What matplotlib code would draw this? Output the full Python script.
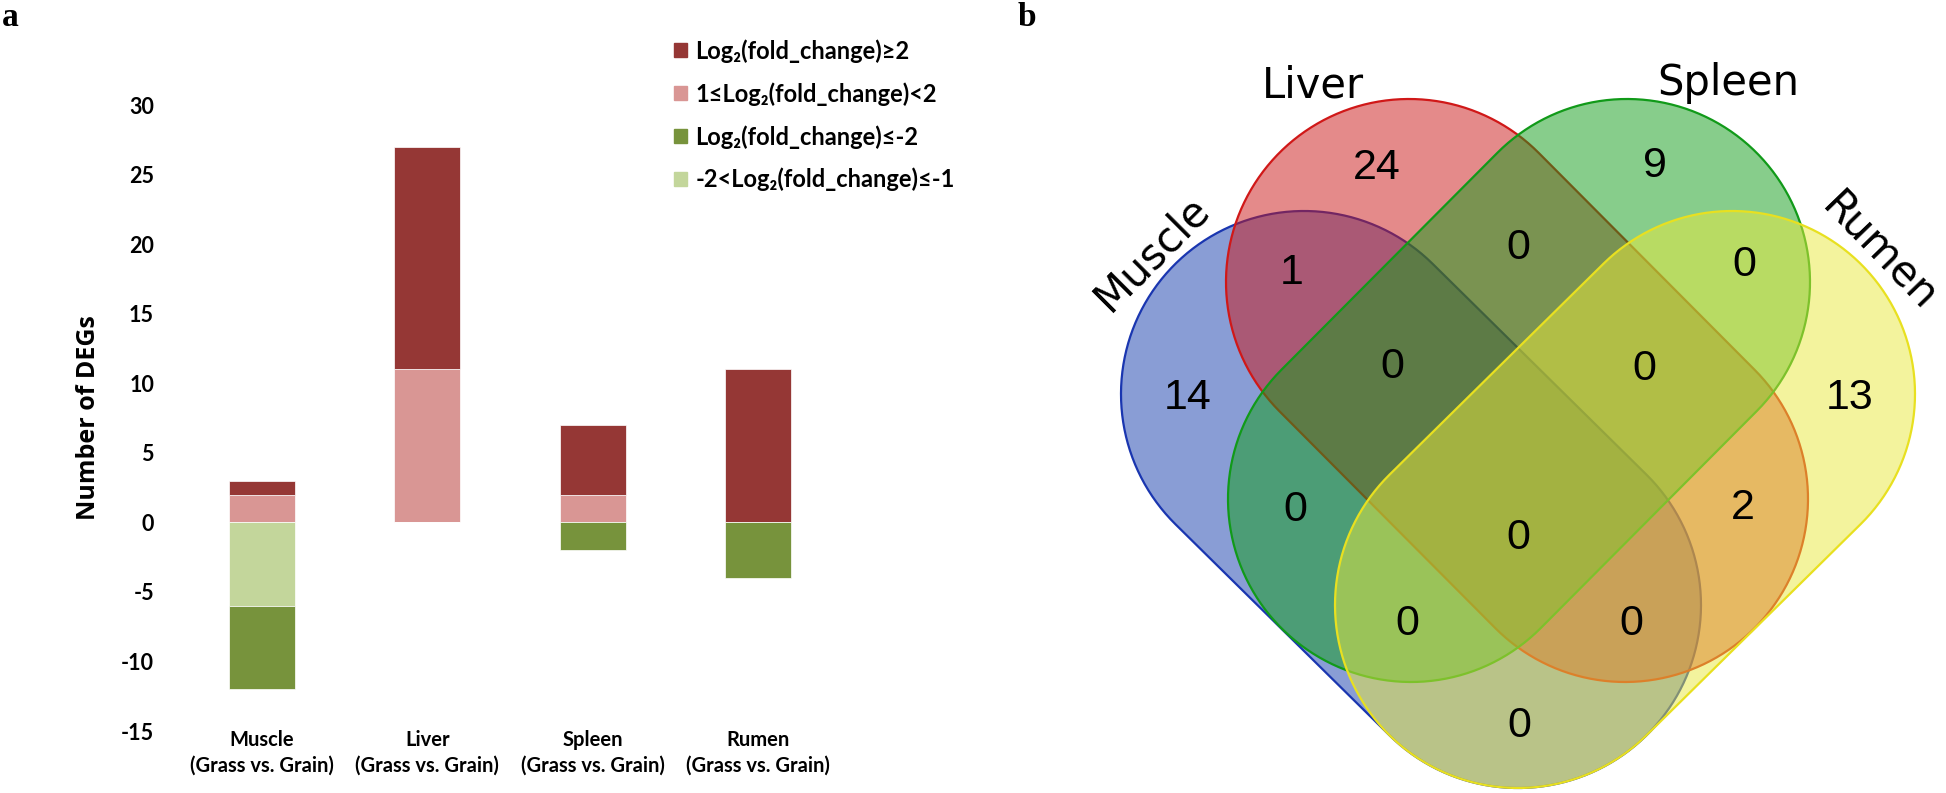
import numpy as np
import matplotlib
matplotlib.use('Agg')
import matplotlib.pyplot as plt
from matplotlib.patches import Polygon, Patch

# ---- panel a data ----
tissues = ['Muscle', 'Liver', 'Spleen', 'Rumen']
up_strong = [1, 16, 5, 11]      # Log2(fold_change) >= 2
up_mild = [2, 11, 2, 0]         # 1 <= Log2(fold_change) < 2
down_strong = [-6, 0, -2, -4]   # Log2(fold_change) <= -2
down_mild = [-6, 0, 0, 0]       # -2 < Log2(fold_change) <= -1
yticks = [-15, -10, -5, 0, 5, 10, 15, 20, 25, 30]
legend_labels = ['Log\u2082(fold_change)\u22652',
                 '1\u2264Log\u2082(fold_change)<2',
                 'Log\u2082(fold_change)\u2264-2',
                 '-2<Log\u2082(fold_change)\u2264-1']

# ---- panel b data ----
venn_sets = ['Muscle', 'Liver', 'Spleen', 'Rumen']
venn_counts = {'M': 14, 'L': 24, 'S': 9, 'R': 13,
               'ML': 1, 'LS': 0, 'SR': 0, 'MS': 0, 'LR': 2, 'MR': 0,
               'MLS': 0, 'LSR': 0, 'MSR': 0, 'MLR': 0, 'MLSR': 0}

c_up2 = '#953735'
c_up1 = '#D99694'
c_dn2 = '#77933C'
c_dn1 = '#C3D69B'

W, H = 1946, 793
fig = plt.figure(figsize=(W / 100, H / 100), dpi=100)

# whole-figure pixel axes for the venn and panel letters
ax_v = fig.add_axes([0, 0, 1, 1])
ax_v.set_xlim(0, W)
ax_v.set_ylim(H, 0)
ax_v.axis('off')
ax_v.patch.set_visible(False)

# ---- panel a ----
ax = fig.add_axes([179 / W, (H - 731) / H, 662 / W, 626 / H])
x = np.arange(len(tissues))
bw = 0.4
ax.bar(x, up_mild, bw, color=c_up1, edgecolor='white', linewidth=0.5)
ax.bar(x, up_strong, bw, bottom=up_mild, color=c_up2, edgecolor='white', linewidth=0.5)
ax.bar(x, down_mild, bw, color=c_dn1, edgecolor='white', linewidth=0.5)
ax.bar(x, down_strong, bw, bottom=down_mild, color=c_dn2, edgecolor='white', linewidth=0.5)
ax.set_xlim(-0.5, 3.5)
ax.set_ylim(-15, 30)
for s in ax.spines.values():
    s.set_visible(False)
ax.set_yticks(yticks)
ax.set_yticklabels([str(v) for v in yticks], fontfamily=['Lato', 'DejaVu Sans'],
                   fontweight='bold', fontsize=15.5)
ax.set_xticks(x)
ax.set_xticklabels([t + '\n(Grass vs. Grain)' for t in tissues],
                   fontfamily=['Lato', 'DejaVu Sans'], fontweight='bold', fontsize=14.5,
                   linespacing=1.4)
ax.tick_params(axis='y', length=0, pad=18)
ax.tick_params(axis='x', length=0, pad=-1)
ax.set_ylabel('Number of DEGs', fontfamily=['Open Sans', 'DejaVu Sans'],
              fontweight='bold', fontsize=18, labelpad=14)

handles = [Patch(color=c) for c in [c_up2, c_up1, c_dn2, c_dn1]]
fig.legend(handles, legend_labels, loc='upper left',
           bbox_to_anchor=(674 / W, (H - 39) / H), frameon=False,
           prop={'family': ['Lato', 'DejaVu Sans'], 'weight': 'bold', 'size': 17},
           handlelength=0.55, handleheight=0.55, handletextpad=0.35,
           labelspacing=0.82, borderpad=0, borderaxespad=0)

ax_v.text(2, 18, 'a', fontfamily=['Liberation Serif', 'DejaVu Serif'], fontweight='bold',
          fontsize=24, ha='left', va='center')
ax_v.text(1027, 18, 'b', fontfamily=['Liberation Serif', 'DejaVu Serif'], fontweight='bold',
          fontsize=24, ha='center', va='center')


# ---- panel b: four-set venn made of stadium shapes ----
def stadium(p1, p2, r, n=80):
    x1, y1 = p1
    x2, y2 = p2
    th = np.arctan2(y2 - y1, x2 - x1)
    a2 = np.linspace(th - np.pi / 2, th + np.pi / 2, n)
    a1 = np.linspace(th + np.pi / 2, th + 3 * np.pi / 2, n)
    pts = np.concatenate([
        np.column_stack([x2 + r * np.cos(a2), y2 + r * np.sin(a2)]),
        np.column_stack([x1 + r * np.cos(a1), y1 + r * np.sin(a1)]),
    ])
    return pts


r = 183
shapes = [
    ((1304, 394), (1518, 605), (21 / 255, 61 / 255, 173 / 255), '#1a36b0'),
    ((1409, 282), (1625, 499), (203 / 255, 23 / 255, 23 / 255), '#d01818'),
    ((1627, 282), (1411, 499), (17 / 255, 157 / 255, 25 / 255), '#119a19'),
    ((1732, 394), (1518, 605), (233 / 255, 233 / 255, 61 / 255), '#e8e020'),
]
for i, (p1, p2, fc, ec) in enumerate(shapes):
    poly = Polygon(stadium(p1, p2, r), closed=True, facecolor=(*fc, 0.5),
                   edgecolor=ec, linewidth=1.6, zorder=2 + i)
    ax_v.add_patch(poly)

region_pos = {'M': (1188, 398), 'L': (1377, 168), 'S': (1655, 166), 'R': (1850, 398),
              'ML': (1292, 273), 'LS': (1518, 248), 'SR': (1744, 265),
              'MS': (1295, 510), 'LR': (1743, 508), 'MR': (1519, 726),
              'MLS': (1392, 367), 'LSR': (1644, 369), 'MSR': (1407, 624),
              'MLR': (1631, 624), 'MLSR': (1518, 538)}
for key, val in venn_counts.items():
    px, py = region_pos[key]
    ax_v.text(px, py, str(val), fontsize=31, ha='center', va='center',
              fontfamily=['Liberation Sans', 'DejaVu Sans'], zorder=10)

label_pos = [((1152, 253), 45), ((1313, 85), 0), ((1728, 83), 0), ((1880, 252), -46)]
for name, ((px, py), rot) in zip(venn_sets, label_pos):
    ax_v.text(px, py, name, fontsize=30, ha='center', va='center', rotation=rot,
              rotation_mode='anchor', fontfamily='DejaVu Sans', zorder=10)

fig.savefig('out.png', dpi=100)
